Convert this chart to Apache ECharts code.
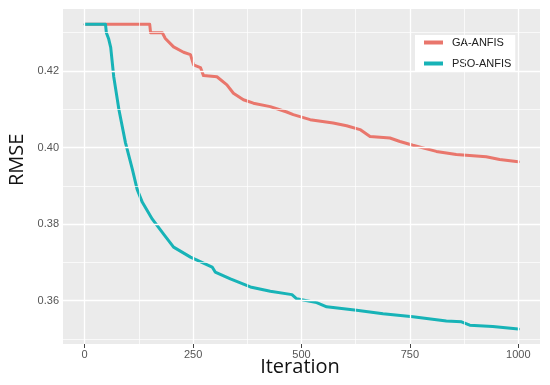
<!DOCTYPE html>
<html>
<head>
<meta charset="utf-8">
<script src="https://cdn.jsdelivr.net/npm/echarts@6/dist/echarts.min.js"></script>
<style>html,body{margin:0;padding:0;background:#fff}#c{width:550px;height:385px}</style>
</head>
<body>
<div id="c"></div>
<script>
// Data
const seriesNames = ['GA-ANFIS', 'PSO-ANFIS'];
const gaIter = [1,150,152,179,186,205,228,244,251,267,274,305,328,343,366,389,428,466,481,520,573,604,635,658,704,727,757,811,857,926,957,1000];
const gaRmse = [0.4322,0.4322,0.4300,0.4300,0.4285,0.4263,0.4249,0.4243,0.4216,0.4209,0.4188,0.4185,0.4164,0.4142,0.4125,0.4116,0.4107,0.4093,0.4086,0.4073,0.4064,0.4057,0.4047,0.4029,0.4025,0.4016,0.4006,0.3990,0.3982,0.3976,0.3969,0.3963];
const psoIter = [1,48,50,55,60,67,79,94,110,121,133,156,182,205,244,294,301,336,382,428,478,489,535,558,627,688,757,834,869,888,941,1000];
const psoRmse = [0.4322,0.4322,0.4300,0.4285,0.4262,0.4185,0.4099,0.4013,0.3943,0.3891,0.3857,0.3813,0.3774,0.3740,0.3714,0.3688,0.3675,0.3657,0.3636,0.3625,0.3616,0.3605,0.3595,0.3584,0.3575,0.3566,0.3558,0.3547,0.3545,0.3536,0.3533,0.3526];
const xTicks = [0, 250, 500, 750, 1000];
const xMinor = [125, 375, 625, 875];
const yTicks = [0.36, 0.38, 0.40, 0.42];
const yMinor = [0.35, 0.37, 0.39, 0.41, 0.43];

const colors = ['#E9766C', '#17B3B7'];
const zip = (a, b) => a.map((v, i) => [v, b[i]]);

const gridLines = []
  .concat(xTicks.map(v => ({xAxis: v, lineStyle: {width: 1.3}})))
  .concat(xMinor.map(v => ({xAxis: v, lineStyle: {width: 0.7}})))
  .concat(yTicks.map(v => ({yAxis: v, lineStyle: {width: 1.3}})))
  .concat(yMinor.map(v => ({yAxis: v, lineStyle: {width: 0.7}})));

const chart = echarts.init(document.getElementById('c'), null, {renderer: 'canvas'});
chart.setOption({
  animation: false,
  grid: {left: 63, right: 10, top: 9, bottom: 41, show: true, backgroundColor: '#EBEBEB', borderWidth: 0},
  xAxis: {
    type: 'value', min: -50, max: 1050,
    axisLine: {show: false},
    axisTick: {show: true, length: 4, customValues: xTicks, lineStyle: {color: '#444', width: 1}},
    axisLabel: {customValues: xTicks, color: '#555', fontSize: 11, fontFamily: 'Liberation Sans', margin: 5,
      formatter: v => String(v)},
    splitLine: {show: false}
  },
  yAxis: {
    type: 'value', min: 0.3487, max: 0.4362,
    axisLine: {show: false},
    axisTick: {show: true, length: 4, customValues: yTicks, lineStyle: {color: '#444', width: 1}},
    axisLabel: {customValues: yTicks, color: '#555', fontSize: 11, fontFamily: 'Liberation Sans', margin: 4,
      formatter: v => v.toFixed(2)},
    splitLine: {show: false}
  },
  legend: {
    orient: 'vertical', left: 415, top: 35,
    backgroundColor: '#fff', padding: [1, 4, 1, 9],
    itemWidth: 19, itemHeight: 4, itemGap: 8, icon: 'rect',
    textStyle: {fontSize: 11, fontFamily: 'Liberation Sans', color: '#222', padding: [0, 0, 0, 4], lineHeight: 13},
    data: seriesNames
  },
  graphic: [
    {type: 'text', x: 300, y: 357, style: {text: 'Iteration', font: '20px "Open Sans"', fill: '#111', textAlign: 'center'}},
    {type: 'text', x: 7, y: 186, rotation: Math.PI / 2, style: {text: 'RMSE', font: '20px "Open Sans"', fill: '#111'}}
  ],
  series: [
    {type: 'line', name: 'grid', data: [], z: 1, silent: true,
      markLine: {silent: true, symbol: 'none', label: {show: false}, animation: false,
        lineStyle: {color: '#FFFFFF', type: 'solid'}, data: gridLines}},
    {type: 'line', name: seriesNames[0], data: zip(gaIter, gaRmse), showSymbol: false, z: 3,
      lineStyle: {color: colors[0], width: 3, join: 'round', cap: 'round'}, itemStyle: {color: colors[0]}},
    {type: 'line', name: seriesNames[1], data: zip(psoIter, psoRmse), showSymbol: false, z: 4,
      lineStyle: {color: colors[1], width: 3, join: 'round', cap: 'round'}, itemStyle: {color: colors[1]}}
  ]
});
</script>
</body>
</html>
